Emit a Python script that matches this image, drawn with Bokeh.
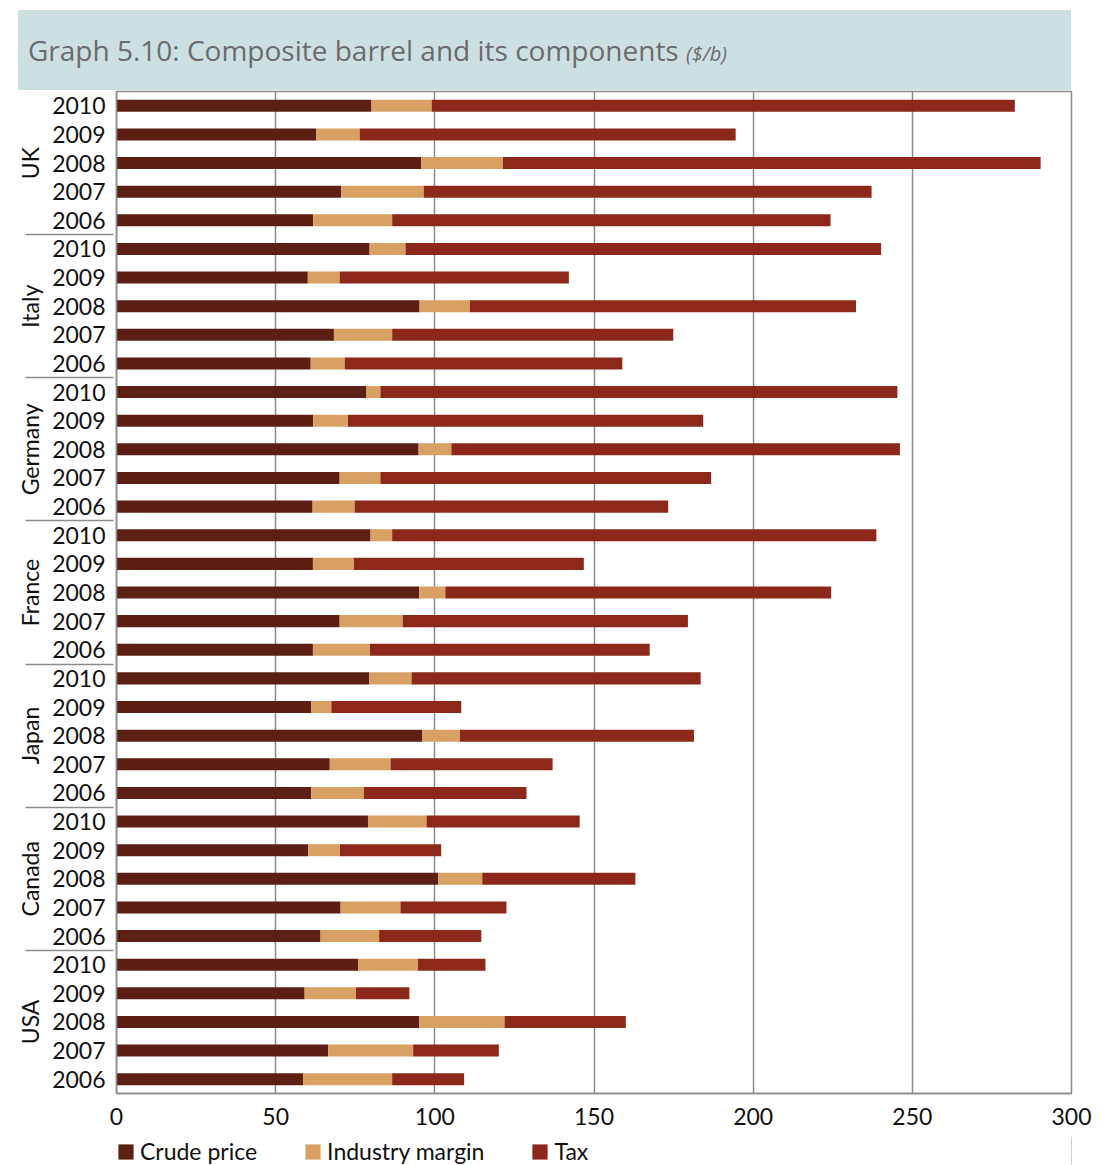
from bokeh.plotting import figure
from bokeh.layouts import column
from bokeh.models import (FactorRange, ColumnDataSource, FixedTicker, Legend, LegendItem, Div)
from bokeh.embed import file_html
from bokeh.resources import INLINE

countries = ["UK", "Italy", "Germany", "France", "Japan", "Canada", "USA"]
years = ["2010", "2009", "2008", "2007", "2006"]

# values listed top to bottom: each country 2010..2006 ($/b)
crude = [80.1, 62.8, 95.7, 70.6, 61.8,
         79.5, 60.1, 95.2, 68.3, 61.0,
         78.5, 61.8, 94.9, 70.1, 61.6,
         79.8, 61.7, 95.1, 70.1, 61.7,
         79.4, 61.2, 96.1, 67.0, 61.2,
         79.0, 60.2, 101.1, 70.4, 64.1,
         75.9, 59.1, 95.1, 66.5, 58.6]
margin = [18.9, 13.6, 25.7, 25.9, 24.8,
          11.3, 10.0, 15.8, 18.3, 10.7,
          4.4, 10.9, 10.3, 12.8, 13.2,
          6.8, 12.9, 8.2, 19.8, 17.9,
          13.3, 6.3, 11.8, 19.1, 16.5,
          18.4, 10.0, 13.8, 18.8, 18.4,
          18.8, 16.1, 26.8, 26.7, 28.0]
tax = [183.2, 118.1, 168.9, 140.7, 137.7,
       149.4, 72.0, 121.3, 88.3, 87.2,
       162.4, 111.6, 140.9, 103.9, 98.5,
       152.1, 72.2, 121.2, 89.6, 87.9,
       90.8, 40.8, 73.5, 50.9, 51.1,
       48.1, 31.8, 48.1, 33.3, 32.1,
       21.2, 16.8, 38.1, 26.9, 22.6]
series = ["Crude price", "Industry margin", "Tax"]
x_ticks = [0, 50, 100, 150, 200, 250, 300]
title_text = "Graph 5.10: Composite barrel and its components"
unit_text = "($/b)"

colors = ["#5b1f14", "#d9a064", "#8b2819"]
FONT = "Lato"
GREY = "#8c8c8c"
W = 1100

# ---- title band ----
title_html = (
    '<div style="position:relative; left:18px; top:10px; width:1053px; height:80px; '
    'box-sizing:border-box; padding-left:10px; background:#cde0e1; '
    "font-family:'Open Sans', sans-serif; font-size:28px; line-height:80px; "
    'color:#6b6b6b; white-space:nowrap;">'
    + title_text +
    ' <span style="font-style:italic; font-size:20px;">' + unit_text + '</span></div>'
)
head = Div(text=title_html, width=W, height=90, margin=0)

# ---- main chart ----
factors = [(c, y) for c in countries for y in years]
source = ColumnDataSource(dict(y=factors, crude=crude, margin=margin, tax=tax))

p = figure(width=W, height=1046,
           y_range=FactorRange(*reversed(factors), group_padding=0, range_padding=0),
           x_range=(0, 300),
           output_backend="svg", toolbar_location=None,
           min_border_left=116, min_border_right=W - 1071, min_border_top=1, min_border_bottom=43)

renderers = p.hbar_stack(["crude", "margin", "tax"], y="y", height=0.42, color=colors,
                         source=source, line_color=None)

p.xgrid.ticker = FixedTicker(ticks=x_ticks)
p.xgrid.grid_line_color = GREY
p.xgrid.grid_line_width = 1.5
p.ygrid.grid_line_color = None
p.outline_line_color = GREY
p.outline_line_width = 1.5

xa = p.xaxis[0]
xa.ticker = FixedTicker(ticks=x_ticks)
xa.axis_line_color = GREY
xa.axis_line_width = 1.5
xa.major_tick_line_color = None
xa.minor_tick_line_color = None
xa.major_label_text_font = FONT
xa.major_label_text_font_size = "23px"
xa.major_label_text_color = "#111111"
xa.major_label_standoff = 8

ya = p.yaxis[0]
ya.axis_line_color = GREY
ya.axis_line_width = 1.5
ya.major_tick_line_color = None
ya.major_label_text_font = FONT
ya.major_label_text_font_size = "23px"
ya.major_label_text_color = "#111111"
ya.group_text_font = FONT
ya.group_text_font_size = "23px"
ya.group_text_font_style = "normal"
ya.group_text_color = "#111111"
ya.group_label_orientation = "vertical"
ya.separator_line_color = GREY
ya.separator_line_width = 1.5

# ---- legend strip (same series, bars kept out of its visible range) ----
pl = figure(width=W, height=29,
            y_range=FactorRange(*reversed(factors), group_padding=0, range_padding=0),
            x_range=(-2, -1),
            x_axis_location=None, y_axis_location=None,
            output_backend="svg", toolbar_location=None,
            min_border_left=116, min_border_right=W - 1071, min_border_top=0, min_border_bottom=0)
pl.grid.visible = False
pl.outline_line_color = None
leg_renderers = pl.hbar_stack(["crude", "margin", "tax"], y="y", height=0.42, color=colors,
                              source=source, line_color=None)
legend = Legend(items=[LegendItem(label=s, renderers=[r]) for s, r in zip(series, leg_renderers)],
                orientation="horizontal", location=(0, 0),
                label_text_font=FONT, label_text_font_size="23px", label_text_color="#111111",
                glyph_width=19, glyph_height=19, label_standoff=5, spacing=46,
                border_line_color=None, background_fill_alpha=0, margin=0, padding=0)
pl.add_layout(legend, "center")

layout = column(head, p, pl, spacing=0)
open("out.html", "w").write(file_html(layout, INLINE))
